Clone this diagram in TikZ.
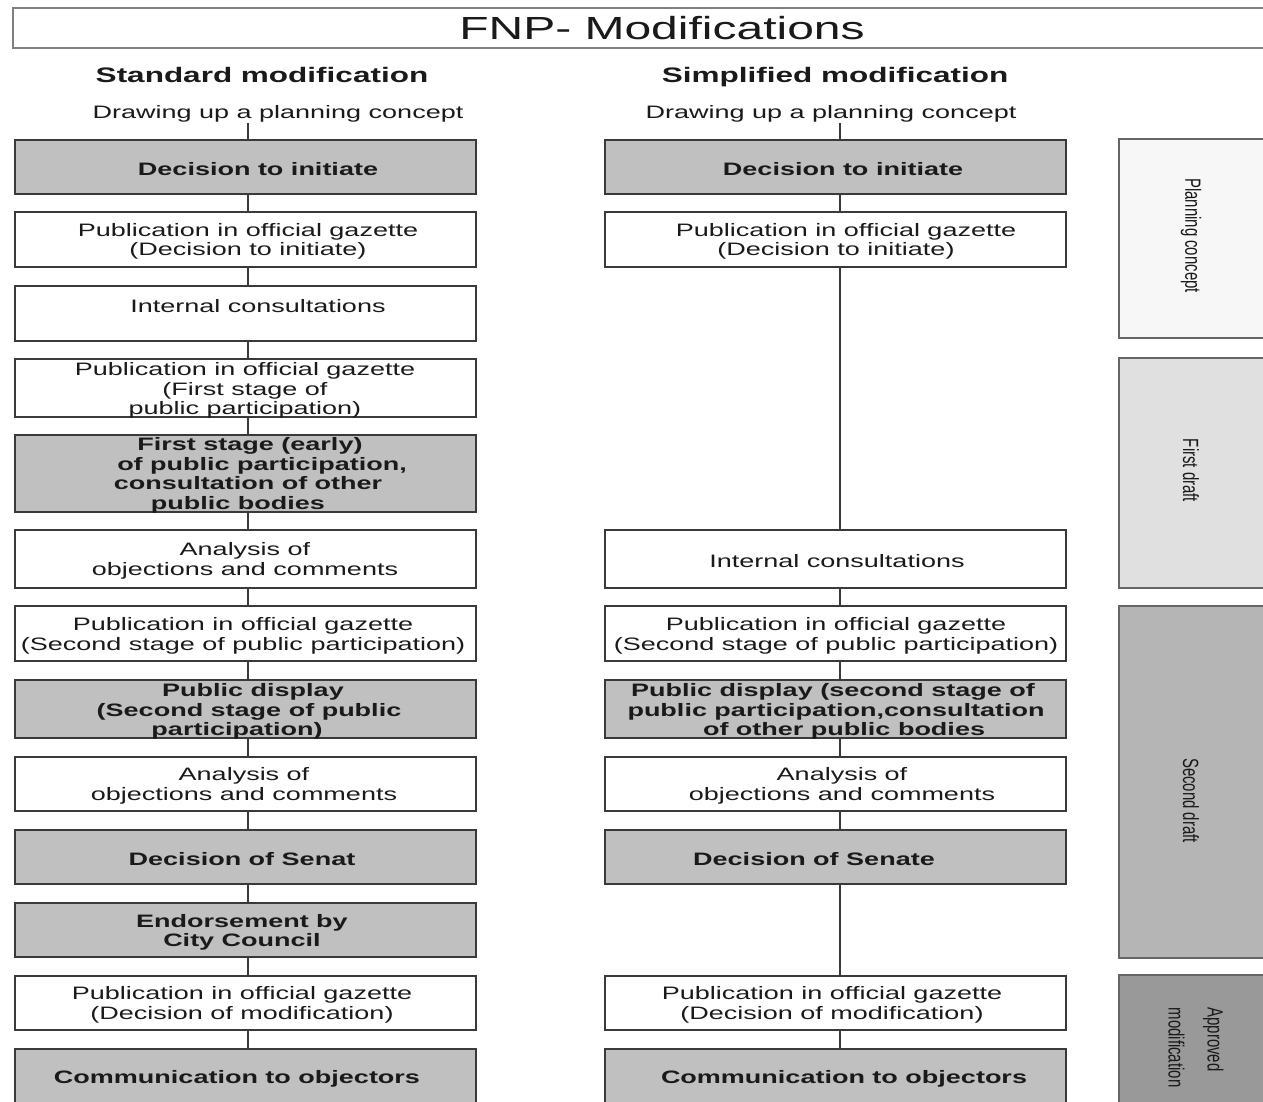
\documentclass[tikz,border=0pt]{standalone}
\usepackage{fontspec}
\setmainfont[FakeStretch=1.5]{Liberation Sans}
\newfontfamily\phasefont[FakeStretch=0.68]{Liberation Sans}
\definecolor{edge}{HTML}{3A3A3A}
\definecolor{boxgray}{HTML}{C0C0C0}
\definecolor{pcgray}{HTML}{F7F7F7}
\definecolor{fdgray}{HTML}{E0E0E0}
\definecolor{sdgray}{HTML}{B5B5B5}
\definecolor{amgray}{HTML}{999999}
\definecolor{ink}{HTML}{1A1A1A}
\tikzset{
  wbox/.style={draw=edge, line width=1.6pt, fill=white, minimum width=461pt, inner sep=0pt},
  gbox/.style={wbox, fill=boxgray},
  txt/.style={font=\fontsize{18}{19.5}\selectfont, text=ink, align=center, inner sep=1pt, yshift=-2.5pt},
  txtb/.style={txt, font=\fontsize{18}{19.5}\selectfont\bfseries},
  head/.style={font=\fontsize{21}{24}\selectfont\bfseries, text=ink, inner sep=1pt, anchor=base},
  conn/.style={draw=edge, line width=1.8pt},
  phasebox/.style={draw=black!60, line width=1.4pt, minimum width=160pt, inner sep=0pt},
  phasetxt/.style={font=\phasefont\fontsize{22}{39}\selectfont, text=ink, rotate=-90, inner sep=1pt}
}
\begin{document}
\begin{tikzpicture}[x=1pt,y=-1pt]
\clip (0,0) rectangle (1263,1101);
\fill[white] (0,0) rectangle (1263,1101);

% title
\node[draw=black!50, line width=1.5pt, minimum width=1280pt, minimum height=40pt, inner sep=0pt] (titlebox) at (653,28) {};
\node[font=\fontsize{32}{36}\selectfont, text=ink, inner sep=0pt] (title) at (662,28) {FNP- Modifications};

% headings
\node[head] (hL) at (262,82.5) {Standard modification};
\node[head] (hR) at (835,82.5) {Simplified modification};
\node[txt] (dL) at (278,111) {Drawing up a planning concept};
\node[txt] (dR) at (831,111) {Drawing up a planning concept};

% phase boxes
\node[phasebox, fill=pcgray, minimum height=199pt] (pc) at (1199,238.5) {};
\node[phasebox, fill=fdgray, minimum height=230pt] (fd) at (1199,473) {};
\node[phasebox, fill=sdgray, minimum height=352pt] (sd) at (1199,782) {};
\node[phasebox, fill=amgray, minimum height=140pt] (am) at (1199,1045) {};
\node[phasetxt] (pct) at (1191,235.5) {Planning concept};
\node[phasetxt] (fdt) at (1191,470.5) {First draft};
\node[phasetxt] (sdt) at (1191,800.5) {Second draft};
\node[phasetxt, align=left] (amt) at (1196,1047.5) {Approved\\modification};

% left column boxes
\node[gbox, minimum height=54pt] (L1) at (245.5,167) {};
\node[wbox, minimum height=55pt] (L2) at (245.5,239.5) {};
\node[wbox, minimum height=55pt] (L3) at (245.5,313.5) {};
\node[wbox, minimum height=58pt] (L4) at (245.5,388) {};
\node[gbox, minimum height=77pt] (L5) at (245.5,473.5) {};
\node[wbox, minimum height=58pt] (L6) at (245.5,559) {};
\node[wbox, minimum height=55pt] (L7) at (245.5,633.5) {};
\node[gbox, minimum height=58pt] (L8) at (245.5,709) {};
\node[wbox, minimum height=54pt] (L9) at (245.5,784) {};
\node[gbox, minimum height=54pt] (L10) at (245.5,857) {};
\node[gbox, minimum height=54pt] (L11) at (245.5,930) {};
\node[wbox, minimum height=54pt] (L12) at (245.5,1003) {};
\node[gbox, minimum height=66pt] (L13) at (245.5,1082) {};

% right column boxes
\node[gbox, minimum height=54pt] (R1) at (835.5,167) {};
\node[wbox, minimum height=55pt] (R2) at (835.5,239.5) {};
\node[wbox, minimum height=58pt] (R3) at (835.5,559) {};
\node[wbox, minimum height=55pt] (R4) at (835.5,633.5) {};
\node[gbox, minimum height=58pt] (R5) at (835.5,709) {};
\node[wbox, minimum height=54pt] (R6) at (835.5,784) {};
\node[gbox, minimum height=54pt] (R7) at (835.5,857) {};
\node[wbox, minimum height=54pt] (R8) at (835.5,1003) {};
\node[gbox, minimum height=66pt] (R9) at (835.5,1082) {};

% connectors
\draw[conn] ([xshift=2.5pt]L1.north) -- ([xshift=2.5pt]L1.north |- dL.south);
\draw[conn] ([xshift=4.5pt]R1.north) -- ([xshift=4.5pt]R1.north |- dR.south);
\foreach \a/\b in {L1/L2,L2/L3,L3/L4,L4/L5,L5/L6,L6/L7,L7/L8,L8/L9,L9/L10,L10/L11,L11/L12,L12/L13}
  \draw[conn] ([xshift=2.5pt]\a.south) -- ([xshift=2.5pt]\b.north);
\foreach \a/\b in {R1/R2,R2/R3,R3/R4,R4/R5,R5/R6,R6/R7,R7/R8,R8/R9}
  \draw[conn] ([xshift=4.5pt]\a.south) -- ([xshift=4.5pt]\b.north);

% left column texts
\node[txtb] (tL1) at (258,167) {Decision to initiate};
\node[txt] (tL2) at (248,239) {Publication in official gazette\\(Decision to initiate)};
\node[txt] (tL3) at (258,304) {Internal consultations};
\node[txt] (tL4) at (245,388) {Publication in official gazette\\\hspace*{0pt}(First stage of\hspace*{22pt}\\public participation)\hspace*{0pt}};
\node[txtb] (tL5) at (248,473) {\hspace*{4pt}First stage (early)\\\hspace*{28pt}of public participation,\\consultation of other\hspace*{28pt}\\public bodies\hspace*{20pt}};
\node[txt] (tL6) at (245,558.5) {Analysis of\\objections and comments};
\node[txt] (tL7) at (243,633.5) {Publication in official gazette\\(Second stage of public participation)};
\node[txtb] (tL8) at (246,709) {\hspace*{14pt}Public display\\\hspace*{6pt}(Second stage of public\\participation)\hspace*{18pt}};
\node[txt] (tL9) at (244,783.5) {Analysis of\\objections and comments};
\node[txtb] (tL10) at (242,857) {Decision of Senat};
\node[txtb] (tL11) at (242,930) {Endorsement by\\City Council};
\node[txt] (tL12) at (242,1002.5) {Publication in official gazette\\(Decision of modification)};
\node[txtb] (tL13) at (237,1076) {Communication to objectors};

% right column texts
\node[txtb] (tR1) at (843,167) {Decision to initiate};
\node[txt] (tR2) at (841,239) {\hspace*{10pt}Publication in official gazette\\(Decision to initiate)\hspace*{10pt}};
\node[txt] (tR3) at (837,559) {Internal consultations};
\node[txt] (tR4) at (836,633.5) {Publication in official gazette\\(Second stage of public participation)};
\node[txtb] (tR5) at (836,709) {Public display (second stage of\hspace*{6pt}\\public participation,consultation\hspace*{2pt}\\\hspace*{16pt}of other public bodies};
\node[txt] (tR6) at (842,783.5) {Analysis of\\objections and comments};
\node[txtb] (tR7) at (814,857) {Decision of Senate};
\node[txt] (tR8) at (832,1002.5) {Publication in official gazette\\(Decision of modification)};
\node[txtb] (tR9) at (844,1076) {Communication to objectors};
\end{tikzpicture}
\end{document}
